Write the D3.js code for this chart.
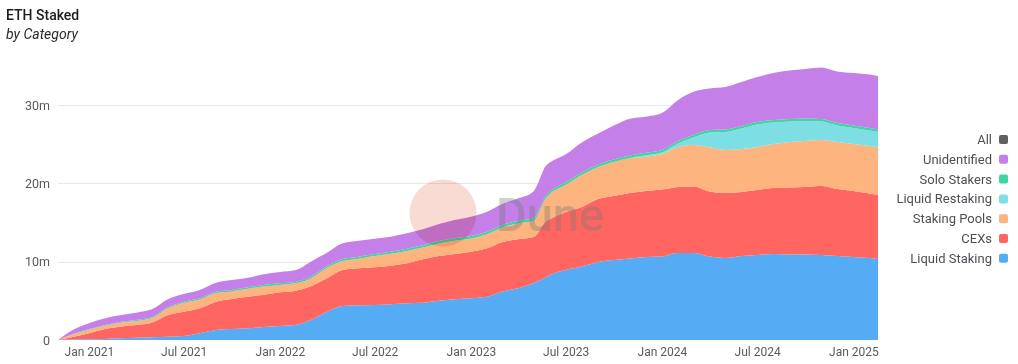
<!DOCTYPE html>
<html>
<head>
<meta charset="utf-8">
<script src="https://cdn.jsdelivr.net/npm/d3@7"></script>
<style>
  html, body { margin: 0; padding: 0; background: #fff; }
  svg { display: block; font-family: Roboto, "Noto Sans", sans-serif; }
</style>
</head>
<body>
<svg id="chart" width="1018" height="364"></svg>
<script>
// ---- data (values in millions of ETH) ----
const dates = ["2020-11-03","2020-12-01","2021-01-01","2021-02-01","2021-03-01","2021-04-01","2021-05-01","2021-06-01","2021-07-01","2021-08-01","2021-09-01","2021-10-01","2021-11-01","2021-12-01","2022-01-01","2022-02-01","2022-03-01","2022-04-01","2022-05-01","2022-06-01","2022-07-01","2022-08-01","2022-09-01","2022-10-01","2022-11-01","2022-12-01","2023-01-01","2023-02-01","2023-03-01","2023-04-01","2023-05-01","2023-05-25","2023-06-01","2023-07-01","2023-08-01","2023-09-01","2023-10-01","2023-11-01","2023-12-01","2024-01-01","2024-02-01","2024-03-01","2024-04-01","2024-05-01","2024-06-01","2024-07-01","2024-08-01","2024-09-01","2024-10-01","2024-11-01","2024-12-01","2025-01-01","2025-02-01","2025-02-17"];

const liquidStaking = [0,0.06,0.09,0.13,0.22,0.29,0.34,0.42,0.51,0.86,1.28,1.40,1.49,1.66,1.79,1.95,2.55,3.61,4.34,4.43,4.47,4.56,4.69,4.76,5.02,5.20,5.33,5.53,6.17,6.60,7.28,8.05,8.30,8.94,9.39,9.96,10.22,10.41,10.60,10.66,11.11,11.11,10.66,10.47,10.73,10.86,10.98,10.92,10.92,10.86,10.73,10.60,10.47,10.34];
const cexs = [0,0.32,0.77,1.27,1.48,1.63,1.87,2.77,3.10,3.19,3.61,3.84,4.04,4.13,4.30,4.35,4.31,4.27,4.60,4.73,4.81,4.93,5.11,5.55,5.71,5.78,5.95,6.18,6.31,6.26,5.87,7.15,7.15,7.41,7.60,8.05,8.17,8.36,8.43,8.56,8.43,8.49,8.31,8.30,8.17,8.30,8.43,8.56,8.62,8.81,8.55,8.43,8.24,8.18];
const stakingPools = [0,0.34,0.46,0.42,0.50,0.51,0.57,0.85,1.13,1.12,1.11,0.97,1.01,1.03,0.95,0.94,1.00,1.34,1.16,1.23,1.44,1.52,1.58,1.49,1.61,1.70,1.68,1.79,1.87,2.03,2.08,2.96,3.21,3.45,4.08,4.07,4.33,4.46,4.38,4.53,5.11,5.30,5.64,5.50,5.49,5.49,5.62,5.81,5.88,5.87,6.01,6.00,6.07,6.06];
const liquidRestaking = [0,0,0,0,0,0,0,0,0,0,0,0,0,0,0,0,0,0,0,0,0,0,0,0,0,0,0,0,0,0,0,0,0,0,0,0,0,0,0.18,0.20,0.45,0.96,1.89,2.29,2.62,2.87,2.75,2.61,2.55,2.36,2.10,2.04,1.98,1.98];
const soloStakers = [0,0.05,0.08,0.10,0.10,0.12,0.12,0.14,0.15,0.16,0.17,0.18,0.19,0.20,0.20,0.21,0.22,0.23,0.24,0.25,0.26,0.27,0.28,0.29,0.30,0.31,0.32,0.32,0.32,0.32,0.32,0.32,0.32,0.32,0.32,0.32,0.32,0.32,0.32,0.32,0.32,0.32,0.32,0.32,0.32,0.32,0.32,0.32,0.32,0.32,0.32,0.32,0.32,0.32];
const unidentified = [0,0.51,0.73,0.85,0.85,0.94,1.02,1.02,0.98,1.06,1.15,1.27,1.23,1.37,1.44,1.49,1.92,1.70,2.01,2.04,1.96,1.91,1.97,2.05,2.17,2.34,2.47,2.56,2.68,2.86,3.45,3.83,3.70,3.57,3.83,3.96,4.34,4.72,4.60,4.72,5.23,5.53,5.30,5.43,5.62,5.75,6.00,6.20,6.32,6.58,6.58,6.71,6.83,6.84];

const seriesNames = ["Liquid Staking","CEXs","Staking Pools","Liquid Restaking","Solo Stakers","Unidentified"];
const seriesColors = ["#55acf4","#ff6661","#fdb47f","#7ddfe3","#3dd5a0","#c47fe8"];
const legendNames = ["All","Unidentified","Solo Stakers","Liquid Restaking","Staking Pools","CEXs","Liquid Staking"];
const legendColors = ["#5f6064","#c47fe8","#3dd5a0","#7ddfe3","#fdb47f","#ff6661","#55acf4"];
const yTicks = [0,10,20,30];
const xTickDates = ["2021-01-01","2021-07-01","2022-01-01","2022-07-01","2023-01-01","2023-07-01","2024-01-01","2024-07-01","2025-01-01"];

// ---- build table ----
const parse = d3.utcParse("%Y-%m-%d");
const seriesArrays = [liquidStaking, cexs, stakingPools, liquidRestaking, soloStakers, unidentified];
const rows = dates.map((d, i) => {
  const r = { date: parse(d) };
  seriesNames.forEach((n, k) => r[n] = seriesArrays[k][i]);
  return r;
});

const svg = d3.select("#chart");
const left = 58, right = 878, bottom = 340, pxPerM = 7.83;

const x = d3.scaleUtc()
  .domain([parse("2020-11-03"), parse("2025-02-17")])
  .range([left, right]);
const y = d3.scaleLinear()
  .domain([0, 35])
  .range([bottom, bottom - 35 * pxPerM]);

// title
svg.append("text").attr("x", 6).attr("y", 19.5)
  .attr("font-size", 14).attr("font-weight", 500).attr("fill", "#1b1b1b")
  .text("ETH Staked");
svg.append("text").attr("x", 6).attr("y", 38.5)
  .attr("font-size", 14).attr("font-style", "italic").attr("fill", "#2a2a2a")
  .text("by Category");

// gridlines
svg.append("g").selectAll("line").data(yTicks.filter(v => v > 0)).join("line")
  .attr("x1", left).attr("x2", right)
  .attr("y1", d => Math.round(y(d)) + 0.5).attr("y2", d => Math.round(y(d)) + 0.5)
  .attr("stroke", "#e8e8ea").attr("stroke-width", 1);

// y axis labels
const yAxis = d3.axisLeft(y).tickValues(yTicks)
  .tickFormat(d => d === 0 ? "0" : d + "m").tickSize(0).tickPadding(0);
const gy = svg.append("g").attr("transform", `translate(50,0)`).call(yAxis);
gy.select(".domain").remove();
gy.selectAll("text").attr("font-size", 12.5).attr("fill", "#5a5a5a")
  .attr("font-family", "Roboto, sans-serif");

// stacked areas
const stack = d3.stack().keys(seriesNames);
const layers = stack(rows);
const area = d3.area()
  .x(d => x(d.data.date))
  .y0(d => y(d[0]))
  .y1(d => y(d[1]))
  .curve(d3.curveMonotoneX);
svg.append("g").selectAll("path").data(layers).join("path")
  .attr("d", area)
  .attr("fill", (d, i) => seriesColors[i]);

// x axis labels
const xAxis = d3.axisBottom(x).tickValues(xTickDates.map(parse))
  .tickFormat(d3.utcFormat("%b %Y")).tickSize(0).tickPadding(0);
const gx = svg.append("g").attr("transform", `translate(0,${bottom + 7})`).call(xAxis);
gx.select(".domain").remove();
gx.selectAll("text").attr("font-size", 12).attr("fill", "#5a5a5a")
  .attr("font-family", "Roboto, sans-serif");

// legend
const lg = svg.append("g");
legendNames.forEach((n, i) => {
  const cy = 139.5 + i * 19.8;
  lg.append("text").attr("x", 992).attr("y", cy).attr("dy", "0.35em")
    .attr("text-anchor", "end").attr("font-size", 13).attr("fill", "#4e4e55")
    .text(n);
  lg.append("rect").attr("x", 999).attr("y", cy - 4.5).attr("width", 9).attr("height", 9)
    .attr("rx", 2).attr("fill", legendColors[i]);
});

// watermark
svg.append("circle").attr("cx", 443).attr("cy", 213).attr("r", 33.5)
  .attr("fill", "#f9dbd4").style("mix-blend-mode", "multiply");
svg.append("text").attr("x", 496).attr("y", 231)
  .attr("font-size", 47).attr("font-weight", 500).attr("fill", "#777")
  .attr("opacity", 0.35).text("Dune");
</script>
</body>
</html>
